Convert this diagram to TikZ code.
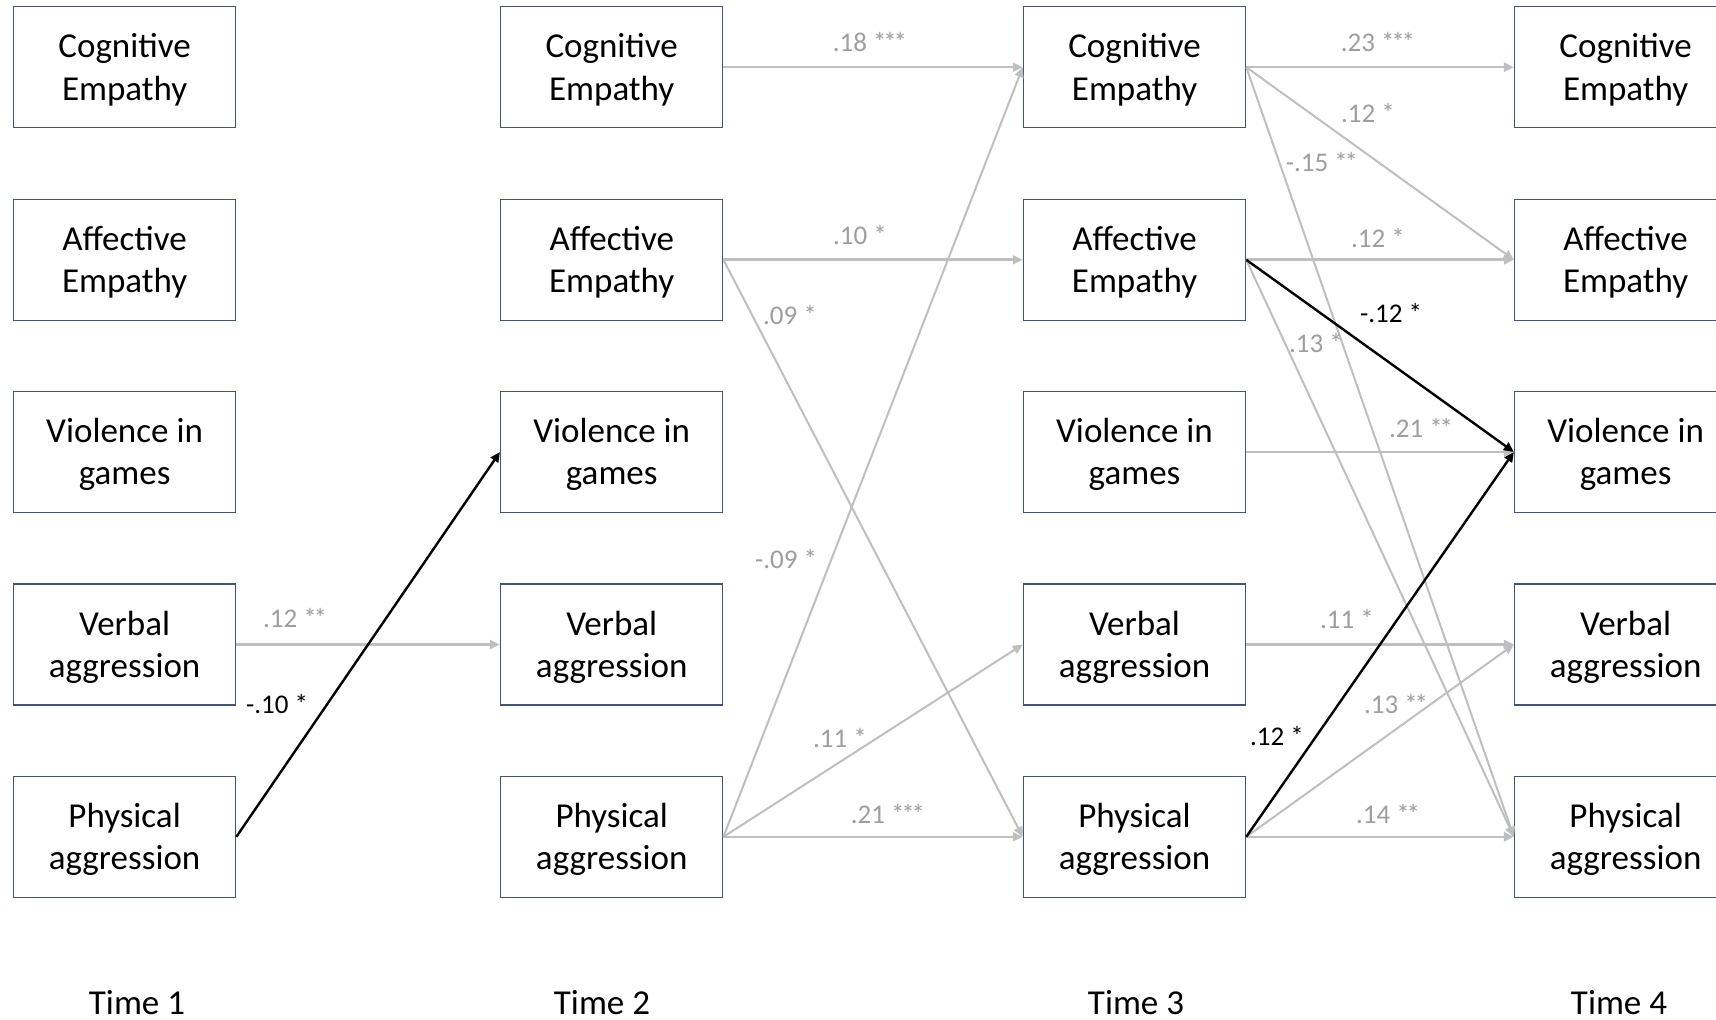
\documentclass[tikz,border=0pt]{standalone}
\usepackage{fontspec}
\setmainfont{Carlito}
\usetikzlibrary{arrows.meta}
\definecolor{boxc}{RGB}{68,84,106}
\definecolor{linec}{RGB}{191,191,191}
\definecolor{labc}{RGB}{158,158,158}
\newcommand\boxtxt[2]{\rule{0pt}{16.75pt}#1\\#2\rule[-5pt]{0pt}{5pt}}
\newcommand\sigA{*}
\newcommand\sigB{*\kern-1.6pt*}
\newcommand\sigC{*\kern-1.6pt*\kern-1.6pt*}
\begin{document}
\begin{tikzpicture}[x=0.5pt,y=-0.5pt,
  box/.style={draw=boxc, line width=0.75pt, fill=white, minimum width=111pt, minimum height=60.5pt, inner sep=0pt, align=center, font=\fontsize{17.5pt}{21.25pt}\selectfont},
  gh/.style={draw=linec, line width=1.3pt, -{Triangle[length=5pt,width=4.5pt]}},
  gd/.style={draw=linec, line width=1pt, -{Triangle[length=5pt,width=4.5pt]}},
  bk/.style={draw=black, line width=1.2pt, -{Triangle[length=5pt,width=4.5pt]}},
  lab/.style={font=\fontsize{13.5pt}{16pt}\selectfont, text=labc, inner sep=0pt, anchor=base},
  labk/.style={lab, text=black},
  timel/.style={font=\fontsize{17.5pt}{20.5pt}\selectfont, inner sep=0pt, anchor=base}]
\fill[white] (0,0) rectangle (1716,1020);
\useasboundingbox (0,0) rectangle (1716,1020);
\clip (0,0) rectangle (1716,1020);

% Time 1
\node[box] (cog1) at (124.6,67.2) {\boxtxt{Cognitive}{Empathy}};
\node[box] (aff1) at (124.6,259.8) {\boxtxt{Affective}{Empathy}};
\node[box] (vio1) at (124.6,452) {\boxtxt{Violence in}{games}};
\node[box] (ver1) at (124.6,644.5) {\boxtxt{Verbal}{aggression}};
\node[box] (phy1) at (124.6,836.8) {\boxtxt{Physical}{aggression}};
% Time 2
\node[box] (cog2) at (611.7,67.2) {\boxtxt{Cognitive}{Empathy}};
\node[box] (aff2) at (611.7,259.8) {\boxtxt{Affective}{Empathy}};
\node[box] (vio2) at (611.7,452) {\boxtxt{Violence in}{games}};
\node[box] (ver2) at (611.7,644.5) {\boxtxt{Verbal}{aggression}};
\node[box] (phy2) at (611.7,836.8) {\boxtxt{Physical}{aggression}};
% Time 3
\node[box] (cog3) at (1134.5,67.2) {\boxtxt{Cognitive}{Empathy}};
\node[box] (aff3) at (1134.5,259.8) {\boxtxt{Affective}{Empathy}};
\node[box] (vio3) at (1134.5,452) {\boxtxt{Violence in}{games}};
\node[box] (ver3) at (1134.5,644.5) {\boxtxt{Verbal}{aggression}};
\node[box] (phy3) at (1134.5,836.8) {\boxtxt{Physical}{aggression}};
% Time 4
\node[box] (cog4) at (1625.6,67.2) {\boxtxt{Cognitive}{Empathy}};
\node[box] (aff4) at (1625.6,259.8) {\boxtxt{Affective}{Empathy}};
\node[box] (vio4) at (1625.6,452) {\boxtxt{Violence in}{games}};
\node[box] (ver4) at (1625.6,644.5) {\boxtxt{Verbal}{aggression}};
\node[box] (phy4) at (1625.6,836.8) {\boxtxt{Physical}{aggression}};

% gray connectors
\draw[gh] (ver1.east) -- (ver2.west);
\draw[gh] (cog2.east) -- (cog3.west);
\draw[gh] (aff2.east) -- (aff3.west);
\draw[gd] (aff2.east) -- (phy3.west);
\draw[gd] (phy2.east) -- (cog3.west);
\draw[gd] (phy2.east) -- (ver3.west);
\draw[gh] (phy2.east) -- (phy3.west);
\draw[gh] (cog3.east) -- (cog4.west);
\draw[gd] (cog3.east) -- (aff4.west);
\draw[gd] (cog3.east) -- (phy4.west);
\draw[gh] (aff3.east) -- (aff4.west);
\draw[gd] (aff3.east) -- (phy4.west);
\draw[gh] (vio3.east) -- (vio4.west);
\draw[gh] (ver3.east) -- (ver4.west);
\draw[gd] (phy3.east) -- (ver4.west);
\draw[gh] (phy3.east) -- (phy4.west);
% black connectors
\draw[bk] (phy1.east) -- (vio2.west);
\draw[bk] (aff3.east) -- (vio4.west);
\draw[bk] (phy3.east) -- (vio4.west);

% labels
\node[lab] (l1) at (295,627) {.12 \sigB};
\node[labk] (l2) at (277,713) {-.10 \sigA};
\node[lab] (l3) at (870,52) {.18 \sigC};
\node[lab] (l4) at (860,245) {.10 \sigA};
\node[lab] (l5) at (790,325) {.09 \sigA};
\node[lab] (l6) at (786,568) {-.09 \sigA};
\node[lab] (l7) at (840,747) {.11 \sigA};
\node[lab] (l8) at (888,823) {.21 \sigC};
\node[lab] (l9) at (1378,52) {.23 \sigC};
\node[lab] (l10) at (1368,123) {.12 \sigA};
\node[lab] (l11) at (1322,172) {-.15 \sigB};
\node[lab] (l12) at (1378,248) {.12 \sigA};
\node[labk] (l13) at (1391,323) {-.12 \sigA};
\node[lab] (l14) at (1316,353) {.13 \sigA};
\node[lab] (l15) at (1421,438) {.21 \sigB};
\node[lab] (l16) at (1347,628) {.11 \sigA};
\node[lab] (l17) at (1396,713) {.13 \sigB};
\node[labk] (l18) at (1277,745) {.12 \sigA};
\node[lab] (l19) at (1388,823) {.14 \sigB};

% time labels
\node[timel] (t1) at (137,1014) {Time 1};
\node[timel] (t2) at (602,1014) {Time 2};
\node[timel] (t3) at (1136,1014) {Time 3};
\node[timel] (t4) at (1619,1014) {Time 4};
\end{tikzpicture}
\end{document}
